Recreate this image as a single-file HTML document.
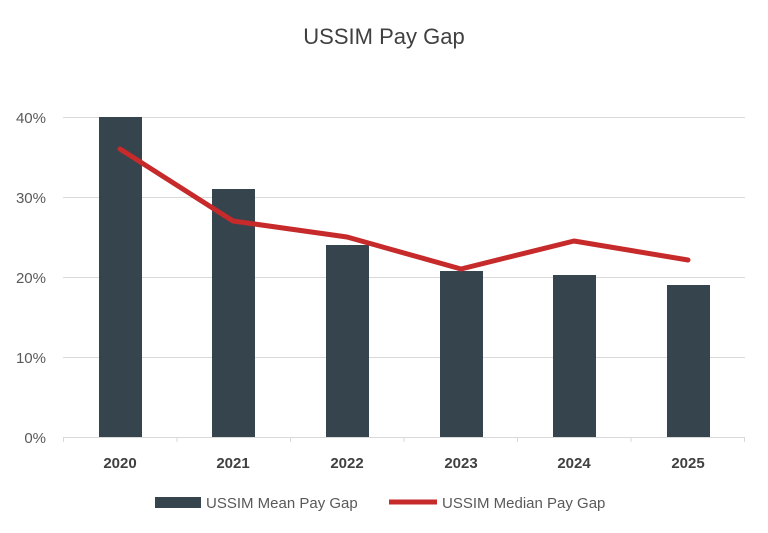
<!DOCTYPE html>
<html><head><meta charset="utf-8"><style>
body{margin:0;background:#fff;}
svg{display:block;font-family:"Liberation Sans",sans-serif;}
</style></head><body>
<svg width="768" height="533" viewBox="0 0 768 533">
<rect width="768" height="533" fill="#fff"/>
<text x="384" y="44" text-anchor="middle" font-size="22" fill="#404040">USSIM Pay Gap</text>
<g stroke="#d9d9d9" stroke-width="1">
<line x1="63" y1="117.5" x2="745" y2="117.5"/>
<line x1="63" y1="197.5" x2="745" y2="197.5"/>
<line x1="63" y1="277.5" x2="745" y2="277.5"/>
<line x1="63" y1="357.5" x2="745" y2="357.5"/>
<line x1="63" y1="437.5" x2="745" y2="437.5"/>
<line x1="63.5" y1="437" x2="63.5" y2="442"/>
<line x1="177" y1="437" x2="177" y2="442"/>
<line x1="290.5" y1="437" x2="290.5" y2="442"/>
<line x1="404" y1="437" x2="404" y2="442"/>
<line x1="517.5" y1="437" x2="517.5" y2="442"/>
<line x1="631" y1="437" x2="631" y2="442"/>
<line x1="744.5" y1="437" x2="744.5" y2="442"/>
</g>
<g fill="#595959" font-size="15" text-anchor="end">
<text x="46" y="123">40%</text><text x="46" y="203">30%</text><text x="46" y="283">20%</text><text x="46" y="363">10%</text><text x="46" y="443">0%</text>
</g>
<g fill="#36444d">
<rect x="99" y="117" width="43" height="320"/>
<rect x="212" y="189" width="43" height="248"/>
<rect x="326" y="245" width="43" height="192"/>
<rect x="440" y="271" width="43" height="166"/>
<rect x="553" y="275" width="43" height="162"/>
<rect x="667" y="285" width="43" height="152"/>
</g>
<polyline points="120,149 233,221 347,237 461,269 574,241 688,260" fill="none" stroke="#c62a2a" stroke-width="5" stroke-linejoin="round" stroke-linecap="round"/>
<g fill="#404040" font-size="15" font-weight="bold" text-anchor="middle">
<text x="120" y="468">2020</text><text x="233" y="468">2021</text><text x="347" y="468">2022</text><text x="461" y="468">2023</text><text x="574" y="468">2024</text><text x="688" y="468">2025</text>
</g>
<rect x="155" y="497" width="46" height="11" fill="#36444d"/>
<text x="206" y="508" font-size="15" fill="#595959">USSIM Mean Pay Gap</text>
<line x1="389" y1="502" x2="437" y2="502" stroke="#c62a2a" stroke-width="5"/>
<text x="442" y="508" font-size="15" fill="#595959">USSIM Median Pay Gap</text>
</svg>
</body></html>
